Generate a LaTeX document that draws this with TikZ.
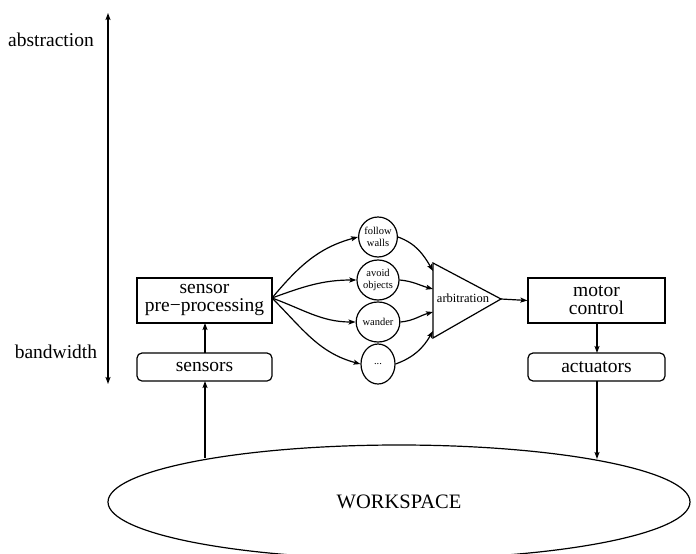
\documentclass[tikz,border=0pt]{standalone}
\usepackage{fontspec}
\setmainfont{Liberation Serif}
\usetikzlibrary{arrows.meta,shapes.geometric}
\begin{document}
\begin{tikzpicture}[x=1pt,y=-1pt,
  line width=1.2pt,
  >={Stealth[length=7pt,width=5pt,inset=1.5pt]},
  bigfont/.style={font=\fontsize{19.5}{18}\selectfont},
  box/.style={draw,rectangle,bigfont,align=center,inner sep=0pt},
  procbox/.style={box,minimum height=45pt},
  iobox/.style={box,rounded corners=5pt,minimum height=28pt},
  behaviour/.style={draw,ellipse,minimum width=34pt,minimum height=40pt,inner sep=0pt,
    align=center,font=\fontsize{10.5}{11.5}\selectfont},
  flow/.style={->}
]
\useasboundingbox (0,0) rectangle (696,554);

% abstraction / bandwidth axis
\coordinate (axtop) at (108,13);
\coordinate (axbot) at (108,384);
\draw[<->] (axbot) -- (axtop);
\node[bigfont] (abs) at (51,40) {abstraction};
\node[bigfont] (bw) at (56,352) {bandwidth};

% perception side
\node[procbox,minimum width=135pt] (spp) at (204.5,300.5) {sensor\\pre−processing};
\node[iobox,minimum width=135pt] (sens) at (204.5,367) {sensors};

% action side
\node[procbox,minimum width=137pt] (mc) at (596.5,300.5) {motor\\control};
\node[iobox,minimum width=137pt] (act) at (596.5,367) {actuators};

% behaviours
\node[behaviour] (b1) at (378,237) {follow\\walls};
\node[behaviour] (b2) at (378,280) {avoid\\objects};
\node[behaviour] (b3) at (378,322) {wander};
\node[behaviour] (b4) at (378,364) {...};

% arbitration
\coordinate (tA) at (433,263);
\coordinate (tB) at (433,338);
\coordinate (tC) at (501,299);
\draw[line join=miter] (tA) -- (tC) -- (tB) -- cycle;
\node[font=\fontsize{12.5}{13}\selectfont,inner sep=0pt] (arb) at (463,298) {arbitration};
\coordinate (in1) at (433,271);
\coordinate (in2) at (433,289);
\coordinate (in3) at (433,312);
\coordinate (in4) at (433,331);

% workspace
\node[draw,ellipse,minimum width=582pt,minimum height=114pt,inner sep=0pt,
  font=\fontsize{20.5}{22}\selectfont] (ws) at (399,502) {WORKSPACE};

% sensing path
\coordinate (wsL) at (205,458);
\coordinate (sensB) at (205,381);
\coordinate (sensT) at (205,353);
\coordinate (sppB) at (205,323);
\draw[flow] (wsL) -- (sensB);
\draw[flow] (sensT) -- (sppB);

% fan out to behaviours
\coordinate (sppo) at (272,298);
\draw[flow] (sppo) to[out=50,in=195] (b1.west);
\draw[flow] (sppo) to[out=20,in=180] (b2.west);
\draw[flow] (sppo) to[out=-20,in=180] (b3.west);
\draw[flow] (sppo) to[out=-45,in=165] (b4.west);

% behaviours into arbitration
\draw[flow] (b1.east) to[out=-20,in=120] (in1);
\draw[flow] (b2.east) to[out=-5,in=165] (in2);
\draw[flow] (b3.east) to[out=5,in=195] (in3);
\draw[flow] (b4.east) to[out=20,in=240] (in4);

% action path
\coordinate (mcB) at (597,323);
\coordinate (actT) at (597,353);
\coordinate (actB) at (597,381);
\coordinate (wsR) at (597,459);
\draw[flow] (tC) -- (mc.west);
\draw[flow] (mcB) -- (actT);
\draw[flow] (actB) -- (wsR);
\end{tikzpicture}
\end{document}
